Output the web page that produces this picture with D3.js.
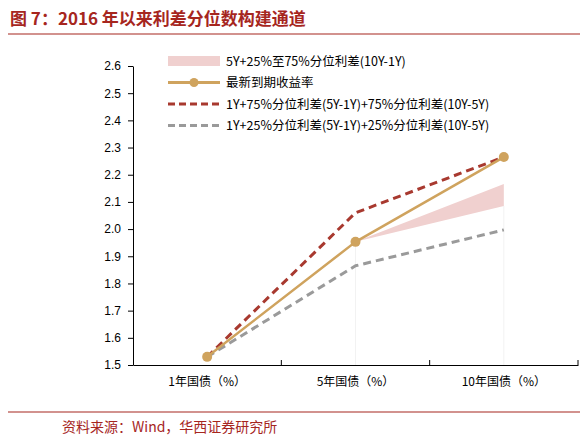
<!DOCTYPE html>
<meta charset="utf-8">
<style>
body { margin: 0; background: #fff; }
text { font-family: "Liberation Sans", "Noto Sans CJK SC", sans-serif; }
</style>
<svg width="587" height="447"></svg>
<script src="https://d3js.org/d3.v7.min.js"></script>
<script>
var categories = ["1年国债（%）", "5年国债（%）", "10年国债（%）"];
var yieldNow = [1.53, 1.953, 2.265];
var upper75 = [1.53, 2.06, 2.265];
var lower25 = [1.53, 1.865, 1.997];
// band only from 5Y to 10Y: [low, high]
var bandLow = [null, 1.953, 2.085];
var bandHigh = [null, 1.953, 2.166];
var yTicks = [1.5, 1.6, 1.7, 1.8, 1.9, 2.0, 2.1, 2.2, 2.3, 2.4, 2.5, 2.6];

var svg = d3.select("svg");
var cjk = '"Noto Sans CJK SC", sans-serif';

// title
svg.append("text").attr("x", 10).attr("y", 25).attr("fill", "#a6261e")
  .attr("font-size", 17).attr("font-weight", "bold").style("font-family", cjk)
  .text("图 7：2016 年以来利差分位数构建通道");
svg.append("line").attr("x1", 8).attr("x2", 580).attr("y1", 34).attr("y2", 34)
  .attr("stroke", "#a6261e").attr("stroke-width", 1.2);

var x = d3.scaleBand().domain(categories).range([133, 578]);
var y = d3.scaleLinear().domain([1.5, 2.6]).range([365, 66]);
var cx = function(i) { return x(categories[i]) + x.bandwidth() / 2; };

// faint vertical guides
svg.selectAll(".guide").data([1, 2]).enter().append("line")
  .attr("x1", cx).attr("x2", cx).attr("y1", function(i){ return y(bandLow[i]); }).attr("y2", 365)
  .attr("stroke", "#f2f2f2");

// y axis
var ya = svg.append("g").attr("transform", "translate(133,0)")
  .call(d3.axisLeft(y).tickValues(yTicks).tickFormat(d3.format(".1f")).tickSize(5).tickSizeOuter(0));
ya.selectAll("text").attr("font-size", 12).attr("fill", "#000").attr("dx", -4);
ya.select(".domain").attr("stroke", "#000");

// x axis
var xa = svg.append("g").attr("transform", "translate(0,365)")
  .call(d3.axisBottom(x).tickSize(0).tickSizeOuter(0));
xa.select(".domain").attr("stroke", "#000");
xa.selectAll("text").attr("font-size", 12).attr("fill", "#000").attr("dy", 18).style("font-family", cjk);
xa.selectAll(".sep").data([1, 2, 3]).enter().append("line").attr("class", "sep")
  .attr("x1", function(i){ return 133 + i * x.bandwidth(); })
  .attr("x2", function(i){ return 133 + i * x.bandwidth(); })
  .attr("y1", 0).attr("y2", -5).attr("stroke", "#000");

// band
var area = d3.area().x(function(d){ return cx(d); })
  .y0(function(d){ return y(bandLow[d]); }).y1(function(d){ return y(bandHigh[d]); });
svg.append("path").datum([1, 2]).attr("d", area).attr("fill", "#f0d0cf");

function drawLine(vals, color, dash, width) {
  var line = d3.line().x(function(d, i){ return cx(i); }).y(function(d){ return y(d); });
  svg.append("path").datum(vals).attr("d", line).attr("fill", "none")
    .attr("stroke", color).attr("stroke-width", width).attr("stroke-dasharray", dash)
    .attr("stroke-linejoin", "round");
}
drawLine(lower25, "#9a9a9a", "8,5", 3);
drawLine(upper75, "#a8392f", "8,5", 3);
drawLine(yieldNow, "#cfa35e", null, 2.5);
svg.selectAll(".pt").data(yieldNow).enter().append("circle")
  .attr("cx", function(d, i){ return cx(i); }).attr("cy", y).attr("r", 5).attr("fill", "#cfa35e");

// legend
var legend = [
  { t: "5Y+25%至75%分位利差(10Y-1Y)", type: "band" },
  { t: "最新到期收益率", type: "gold" },
  { t: "1Y+75%分位利差(5Y-1Y)+75%分位利差(10Y-5Y)", type: "red" },
  { t: "1Y+25%分位利差(5Y-1Y)+25%分位利差(10Y-5Y)", type: "grey" }
];
var lg = svg.selectAll(".lg").data(legend).enter().append("g")
  .attr("transform", function(d, i){ return "translate(168," + (61 + i * 21.5) + ")"; });
lg.each(function(d) {
  var g = d3.select(this);
  if (d.type === "band") g.append("rect").attr("x", 0).attr("y", -5).attr("width", 52).attr("height", 10).attr("fill", "#f0d0cf");
  else {
    var c = d.type === "gold" ? "#cfa35e" : d.type === "red" ? "#a8392f" : "#9a9a9a";
    g.append("line").attr("x1", 0).attr("x2", 52).attr("stroke", c).attr("stroke-width", 3)
      .attr("stroke-dasharray", d.type === "gold" ? null : "7,4");
    if (d.type === "gold") g.append("circle").attr("cx", 26).attr("r", 4.5).attr("fill", c);
  }
  g.append("text").attr("x", 58).attr("y", 4.5).attr("font-size", 12.5).attr("fill", "#000")
    .style("font-family", cjk).text(d.t);
});

// source
svg.append("line").attr("x1", 8).attr("x2", 580).attr("y1", 412).attr("y2", 412)
  .attr("stroke", "#a6261e").attr("stroke-width", 1.2);
svg.append("text").attr("x", 62).attr("y", 432).attr("fill", "#a6261e").attr("font-size", 14)
  .style("font-family", cjk).text("资料来源：Wind，华西证券研究所");
</script>
